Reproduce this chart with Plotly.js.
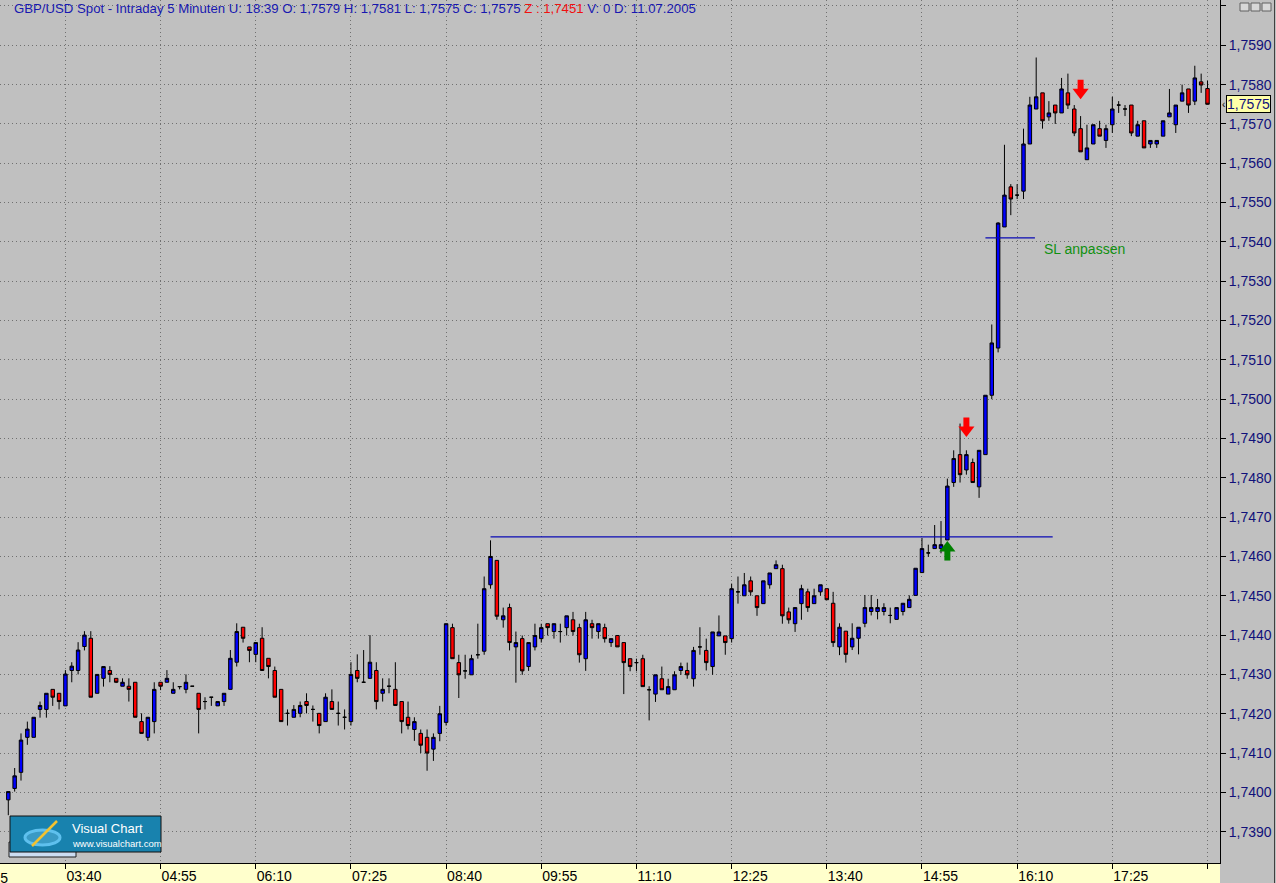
<!DOCTYPE html>
<html>
<head>
<meta charset="utf-8">
<script src="https://cdn.plot.ly/plotly-3.0.1.min.js"></script>
<style>html,body{margin:0;padding:0;background:#C0C0C0;}#chart{width:1276px;height:883px;}</style>
</head>
<body>
<div id="chart"></div>
<script>
// ---- data: GBP/USD 5-minute candles, 11.07.2005 ----
const startTime = Date.UTC(2005, 6, 11, 2, 55); // first candle
const stepMinutes = 5;

const opens = [
1.73981,1.74010,1.74051,1.74140,1.74140,1.74211,1.74211,1.74262,1.74252,1.74220,
1.74310,1.74310,1.74371,1.74392,1.74252,1.74290,1.74310,1.74290,1.74270,1.74270,
1.74280,1.74180,1.74140,1.74180,1.74280,1.74280,1.74252,1.74269,1.74262,1.74270,
1.74252,1.74231,1.74242,1.74220,1.74231,1.74262,1.74331,1.74420,1.74370,1.74351,
1.74392,1.74341,1.74310,1.74262,1.74201,1.74191,1.74201,1.74231,1.74211,1.74201,
1.74180,1.74231,1.74201,1.74191,1.74180,1.74310,1.74280,1.74290,1.74310,1.74252,
1.74270,1.74262,1.74231,1.74191,1.74160,1.74150,1.74140,1.74110,1.74150,1.74178,
1.74419,1.74330,1.74309,1.74299,1.74350,1.74359,1.74528,1.74590,1.74439,1.74470,
1.74370,1.74391,1.74320,1.74370,1.74391,1.74429,1.74409,1.74409,1.74419,1.74439,
1.74419,1.74340,1.74429,1.74409,1.74419,1.74381,1.74399,1.74381,1.74340,1.74330,
1.74340,1.74261,1.74250,1.74289,1.74250,1.74261,1.74310,1.74310,1.74289,1.74370,
1.74361,1.74320,1.74398,1.74398,1.74391,1.74510,1.74500,1.74538,1.74500,1.74480,
1.74528,1.74569,1.74569,1.74459,1.74429,1.74480,1.74510,1.74480,1.74510,1.74518,
1.74481,1.74370,1.74410,1.74370,1.74392,1.74430,1.74460,1.74460,1.74460,1.74450,
1.74440,1.74460,1.74470,1.74501,1.74559,1.74609,1.74620,1.74620,1.74642,1.74788,
1.74859,1.74820,1.74839,1.74777,1.74859,1.75010,1.75130,1.75438,1.75540,1.75519,
1.75529,1.75649,1.75738,1.75779,1.75718,1.75748,1.75728,1.75779,1.75738,1.75688,
1.75609,1.75649,1.75688,1.75658,1.75698,1.75748,1.75738,1.75748,1.75669,1.75708,
1.75649,1.75649,1.75669,1.75718,1.75698,1.75758,1.75789,1.75758,1.75807,1.75790
];
const highs = [
1.74002,1.74062,1.74150,1.74180,1.74191,1.74231,1.74252,1.74262,1.74252,1.74311,
1.74331,1.74382,1.74410,1.74410,1.74300,1.74320,1.74321,1.74290,1.74290,1.74290,
1.74280,1.74201,1.74191,1.74280,1.74280,1.74311,1.74280,1.74269,1.74300,1.74270,
1.74252,1.74242,1.74242,1.74231,1.74252,1.74362,1.74430,1.74420,1.74370,1.74381,
1.74420,1.74341,1.74320,1.74262,1.74211,1.74222,1.74231,1.74252,1.74221,1.74201,
1.74252,1.74262,1.74231,1.74211,1.74331,1.74351,1.74362,1.74400,1.74331,1.74290,
1.74290,1.74331,1.74231,1.74231,1.74191,1.74160,1.74160,1.74150,1.74220,1.74429,
1.74429,1.74350,1.74350,1.74350,1.74429,1.74549,1.74641,1.74590,1.74470,1.74480,
1.74409,1.74399,1.74381,1.74429,1.74429,1.74429,1.74429,1.74429,1.74449,1.74459,
1.74429,1.74459,1.74439,1.74429,1.74429,1.74391,1.74399,1.74381,1.74340,1.74340,
1.74350,1.74270,1.74299,1.74320,1.74289,1.74308,1.74330,1.74330,1.74370,1.74420,
1.74391,1.74408,1.74450,1.74398,1.74531,1.74549,1.74558,1.74549,1.74500,1.74538,
1.74558,1.74590,1.74579,1.74470,1.74470,1.74528,1.74518,1.74518,1.74528,1.74518,
1.74510,1.74430,1.74410,1.74430,1.74420,1.74502,1.74502,1.74492,1.74481,1.74470,
1.74470,1.74481,1.74501,1.74570,1.74647,1.74630,1.74680,1.74690,1.74798,1.74870,
1.74938,1.74870,1.74849,1.74870,1.75010,1.75190,1.75450,1.75647,1.75547,1.75547,
1.75688,1.75769,1.75869,1.75779,1.75758,1.75748,1.75817,1.75828,1.75748,1.75720,
1.75698,1.75698,1.75708,1.75698,1.75769,1.75758,1.75748,1.75748,1.75708,1.75708,
1.75658,1.75658,1.75708,1.75789,1.75748,1.75800,1.75789,1.75848,1.75828,1.75810
];
const lows = [
1.73942,1.74002,1.74030,1.74121,1.74140,1.74190,1.74190,1.74220,1.74211,1.74220,
1.74280,1.74300,1.74361,1.74242,1.74252,1.74269,1.74280,1.74278,1.74270,1.74231,
1.74191,1.74150,1.74131,1.74150,1.74260,1.74280,1.74252,1.74262,1.74252,1.74270,
1.74150,1.74211,1.74220,1.74220,1.74220,1.74262,1.74320,1.74381,1.74331,1.74331,
1.74310,1.74290,1.74242,1.74180,1.74170,1.74191,1.74191,1.74201,1.74180,1.74150,
1.74180,1.74211,1.74170,1.74160,1.74170,1.74280,1.74280,1.74290,1.74211,1.74231,
1.74252,1.74221,1.74150,1.74160,1.74131,1.74100,1.74055,1.74080,1.74130,1.74170,
1.74340,1.74240,1.74289,1.74299,1.74340,1.74350,1.74518,1.74439,1.74419,1.74361,
1.74279,1.74299,1.74309,1.74361,1.74381,1.74399,1.74391,1.74381,1.74399,1.74399,
1.74330,1.74309,1.74391,1.74391,1.74381,1.74370,1.74370,1.74250,1.74308,1.74308,
1.74269,1.74183,1.74230,1.74261,1.74250,1.74261,1.74299,1.74289,1.74269,1.74350,
1.74310,1.74299,1.74398,1.74350,1.74381,1.74480,1.74500,1.74500,1.74449,1.74480,
1.74518,1.74569,1.74429,1.74429,1.74408,1.74439,1.74459,1.74480,1.74500,1.74490,
1.74370,1.74349,1.74330,1.74362,1.74351,1.74420,1.74450,1.74440,1.74450,1.74430,
1.74440,1.74450,1.74470,1.74501,1.74559,1.74599,1.74620,1.74608,1.74642,1.74777,
1.74788,1.74808,1.74788,1.74749,1.74859,1.75000,1.75119,1.75438,1.75468,1.75509,
1.75509,1.75649,1.75738,1.75688,1.75708,1.75700,1.75728,1.75738,1.75669,1.75629,
1.75609,1.75649,1.75669,1.75639,1.75677,1.75728,1.75720,1.75669,1.75669,1.75639,
1.75639,1.75639,1.75669,1.75718,1.75677,1.75758,1.75728,1.75748,1.75779,1.75750
];
const closes = [
1.74002,1.74042,1.74133,1.74161,1.74191,1.74221,1.74252,1.74242,1.74231,1.74301,
1.74321,1.74362,1.74400,1.74242,1.74300,1.74320,1.74300,1.74280,1.74280,1.74262,
1.74191,1.74150,1.74191,1.74262,1.74270,1.74290,1.74262,1.74269,1.74280,1.74270,
1.74211,1.74231,1.74242,1.74231,1.74252,1.74341,1.74409,1.74392,1.74361,1.74381,
1.74310,1.74320,1.74242,1.74180,1.74201,1.74211,1.74221,1.74221,1.74211,1.74170,
1.74242,1.74211,1.74201,1.74191,1.74300,1.74290,1.74280,1.74331,1.74231,1.74262,
1.74270,1.74221,1.74180,1.74170,1.74180,1.74120,1.74100,1.74140,1.74200,1.74429,
1.74340,1.74299,1.74309,1.74340,1.74350,1.74518,1.74600,1.74448,1.74449,1.74381,
1.74381,1.74309,1.74381,1.74399,1.74419,1.74419,1.74429,1.74409,1.74449,1.74409,
1.74350,1.74439,1.74419,1.74429,1.74391,1.74391,1.74370,1.74330,1.74320,1.74330,
1.74269,1.74261,1.74299,1.74261,1.74269,1.74299,1.74320,1.74299,1.74361,1.74370,
1.74330,1.74408,1.74408,1.74381,1.74518,1.74510,1.74528,1.74510,1.74470,1.74538,
1.74558,1.74579,1.74449,1.74439,1.74470,1.74518,1.74470,1.74500,1.74528,1.74490,
1.74381,1.74420,1.74351,1.74392,1.74420,1.74470,1.74470,1.74470,1.74470,1.74450,
1.74470,1.74481,1.74491,1.74570,1.74620,1.74609,1.74630,1.74630,1.74779,1.74849,
1.74808,1.74859,1.74788,1.74870,1.75010,1.75143,1.75448,1.75519,1.75509,1.75519,
1.75649,1.75748,1.75769,1.75708,1.75728,1.75728,1.75789,1.75748,1.75677,1.75629,
1.75639,1.75698,1.75669,1.75688,1.75738,1.75748,1.75738,1.75677,1.75698,1.75639,
1.75658,1.75658,1.75708,1.75728,1.75748,1.75779,1.75748,1.75817,1.75799,1.75750
];

// x-axis tick labels (every 75 minutes)
const tickLabels = ['03:40','04:55','06:10','07:25','08:40','09:55','11:10','12:25','13:40','14:55','16:10','17:25',''];
const firstTick = '02:25';

// drawn horizontal levels
const levelPrices = [1.7465, 1.7541];
const levelStart = ['09:15', '15:45'];
const levelEnd = ['16:38', '16:24'];
const noteText = 'SL anpassen';
const noteTime = '16:29:30';
const notePrice = 1.75382;

// signal arrows
const signalTimes = ['15:15', '15:30', '17:00'];
const signalDir = ['up', 'down', 'down'];
const signalPrice = [1.74614, 1.74929, 1.75788];

const lastPrice = 1.7575;
const titleParts = {
  main: 'GBP/USD Spot - Intraday 5 Minuten U: 18:39 O: 1,7579 H: 1,7581 L: 1,7575 C: 1,7575 ',
  z: 'Z : 1,7451',
  tail: ' V: 0 D: 11.07.2005'
};

// ---- build ----
const pad = n => String(n).padStart(2, '0');
function fmt(ms) {
  const d = new Date(ms);
  return d.getUTCFullYear() + '-' + pad(d.getUTCMonth() + 1) + '-' + pad(d.getUTCDate()) + ' ' +
    pad(d.getUTCHours()) + ':' + pad(d.getUTCMinutes()) + ':' + pad(d.getUTCSeconds());
}
const day = '2005-07-11 ';
const toMs = hm => { const p = hm.split(':').map(Number); return Date.UTC(2005, 6, 11, p[0], p[1], p[2] || 0); };
const stepMs = stepMinutes * 60000;
const times = opens.map((_, i) => fmt(startTime + i * stepMs));

const plotW = 1220, plotH = 863;
const xr0 = startTime - 1.308 * stepMs;
const xr1 = startTime + 190.97 * stepMs;
const yr = [1.738204, 1.760152];
const pricePerPx = (yr[1] - yr[0]) / plotH;

const tickVals = tickLabels.map((_, k) => fmt(toMs('03:40') + k * 75 * 60000));

const traces = [{
  type: 'candlestick', x: times, open: opens, high: highs, low: lows, close: closes,
  increasing: { line: { color: '#000000', width: 1 }, fillcolor: '#0000FF' },
  decreasing: { line: { color: '#000000', width: 1 }, fillcolor: '#FF0000' },
  whiskerwidth: 0, hoverinfo: 'skip', showlegend: false
}];

// arrows: stems and heads
const upIdx = [], dnIdx = [];
signalDir.forEach((d, i) => (d === 'up' ? upIdx : dnIdx).push(i));
function arrowTraces(idx, dir, color) {
  const sgn = dir === 'up' ? 1 : -1;
  const xs = idx.map(i => day + signalTimes[i]);
  return [
    { type: 'scatter', mode: 'markers', x: xs, y: idx.map(i => signalPrice[i] - sgn * 4 * pricePerPx),
      marker: { symbol: 'line-ns', size: 8, line: { color: color, width: 6 } }, hoverinfo: 'skip', showlegend: false },
    { type: 'scatter', mode: 'markers', x: xs, y: idx.map(i => signalPrice[i] + sgn * 3 * pricePerPx),
      marker: { symbol: dir === 'up' ? 'triangle-up' : 'triangle-down', size: 14, color: color, line: { width: 0 } },
      hoverinfo: 'skip', showlegend: false }
  ];
}
traces.push(...arrowTraces(upIdx, 'up', '#008000'));
traces.push(...arrowTraces(dnIdx, 'down', '#FF0000'));

const px = x => x / plotW;
const py = y => 1 - y / plotH;

const shapes = [];
levelPrices.forEach((p, i) => shapes.push({
  type: 'line', xref: 'x', yref: 'y', x0: day + levelStart[i], x1: day + levelEnd[i], y0: p, y1: p,
  line: { color: '#0A0AB4', width: 1.3 }
}));
// bottom yellow time strip
shapes.push({ type: 'rect', xref: 'paper', yref: 'paper', x0: 0, x1: 1, y0: py(883), y1: 0,
  fillcolor: '#FFFFCC', line: { width: 0 }, layer: 'below' });
// right border
shapes.push({ type: 'line', xref: 'paper', yref: 'paper', x0: px(1274.5), x1: px(1274.5), y0: py(883), y1: 1,
  line: { color: '#404040', width: 1 } });
// window buttons top-right
[1240, 1251, 1262].forEach(x => shapes.push({ type: 'rect', xref: 'paper', yref: 'paper',
  x0: px(x), x1: px(x + 9), y0: py(11), y1: py(3), fillcolor: '#D8D8D8', line: { color: '#606060', width: 1 } }));
// logo
shapes.push({ type: 'rect', xref: 'paper', yref: 'paper', x0: px(9), x1: px(76), y0: py(857), y1: py(842),
  fillcolor: '#CCDDF2', line: { color: '#202020', width: 1 }, layer: 'above' });
shapes.push({ type: 'rect', xref: 'paper', yref: 'paper', x0: px(10), x1: px(161), y0: py(852), y1: py(816),
  fillcolor: '#1882AE', line: { color: '#101010', width: 1 }, layer: 'above' });
shapes.push({ type: 'circle', xref: 'paper', yref: 'paper', x0: px(25), x1: px(60), y0: py(845), y1: py(830),
  fillcolor: 'rgba(120,200,240,0.35)', line: { color: '#5EC0EE', width: 3 }, layer: 'above' });
shapes.push({ type: 'line', xref: 'paper', yref: 'paper', x0: px(32), x1: px(57), y0: py(846), y1: py(821),
  line: { color: '#F2C230', width: 2.5 }, layer: 'above' });

const annotations = [
  { xref: 'paper', yref: 'paper', x: 0, y: 1, xanchor: 'left', yanchor: 'top', xshift: 12, yshift: 1, showarrow: false,
    text: '<span style="color:#1818B0">' + titleParts.main + '</span><span style="color:#F01010">' + titleParts.z +
      '</span><span style="color:#1818B0">' + titleParts.tail + '</span>',
    font: { family: 'Liberation Sans, Arial, sans-serif', size: 13.2, color: '#1818B0' } },
  { xref: 'x', yref: 'y', x: day + noteTime, y: notePrice, xanchor: 'left', yanchor: 'middle', showarrow: false,
    text: noteText, font: { family: 'Liberation Sans, Arial, sans-serif', size: 14, color: '#119011' } },
  { xref: 'paper', yref: 'y', x: 1, y: lastPrice, xanchor: 'left', yanchor: 'middle', xshift: 6, showarrow: false,
    text: lastPrice.toFixed(4).replace('.', ','), bgcolor: '#FFFFA8', bordercolor: '#000000', borderwidth: 1, borderpad: 0,
    font: { family: 'Liberation Sans, Arial, sans-serif', size: 14, color: '#10107A' } },
  { xref: 'paper', yref: 'y', x: 1, y: lastPrice, xanchor: 'left', yanchor: 'middle', xshift: 0, showarrow: false,
    text: '‹', font: { family: 'Liberation Sans, Arial, sans-serif', size: 10, color: '#000000' } },
  { xref: 'paper', yref: 'paper', x: (toMs(firstTick) - xr0) / (xr1 - xr0), y: 0, xanchor: 'left', yanchor: 'top',
    yshift: -5, xshift: 1, showarrow: false, text: firstTick,
    font: { family: 'Liberation Sans, Arial, sans-serif', size: 14, color: '#000000' } },
  { xref: 'paper', yref: 'paper', x: px(70), y: py(828), xanchor: 'left', yanchor: 'middle', showarrow: false,
    text: 'Visual Chart', font: { family: 'Liberation Sans, Arial, sans-serif', size: 13, color: '#FFFFFF' } },
  { xref: 'paper', yref: 'paper', x: px(70), y: py(843), xanchor: 'left', yanchor: 'middle', showarrow: false,
    text: 'www.visualchart.com', font: { family: 'Liberation Sans, Arial, sans-serif', size: 9.5, color: '#FFFFFF' } }
];

const gridDash = '1px,3px';
const layout = {
  width: 1276, height: 883,
  margin: { l: 0, r: 56, t: 0, b: 20, pad: 0 },
  paper_bgcolor: '#C0C0C0', plot_bgcolor: '#C0C0C0',
  separators: ',.', showlegend: false, dragmode: false, boxgap: 0.22,
  xaxis: {
    type: 'date', range: [fmt(xr0), fmt(xr1)], rangeslider: { visible: false },
    tickmode: 'array', tickvals: tickVals, ticktext: tickLabels,
    ticks: 'outside', ticklen: 5, tickcolor: '#000000', tickwidth: 1,
    ticklabelposition: 'outside right',
    showgrid: true, gridcolor: '#707070', griddash: gridDash, gridwidth: 1,
    showline: true, linecolor: '#000000', linewidth: 1, zeroline: false, fixedrange: true,
    tickfont: { family: 'Liberation Sans, Arial, sans-serif', size: 14, color: '#000000' }
  },
  yaxis: {
    side: 'right', range: yr, tick0: 1.739, dtick: 0.001, tickformat: '.4f',
    ticks: 'outside', ticklen: 5, tickcolor: '#000000', tickwidth: 1,
    showgrid: true, gridcolor: '#707070', griddash: gridDash, gridwidth: 1,
    showline: true, linecolor: '#000000', linewidth: 1, zeroline: false, fixedrange: true,
    tickfont: { family: 'Liberation Sans, Arial, sans-serif', size: 14, color: '#10107A' }
  },
  shapes: shapes, annotations: annotations
};

Plotly.newPlot('chart', traces, layout, { displayModeBar: false, staticPlot: true });
</script>
</body>
</html>
